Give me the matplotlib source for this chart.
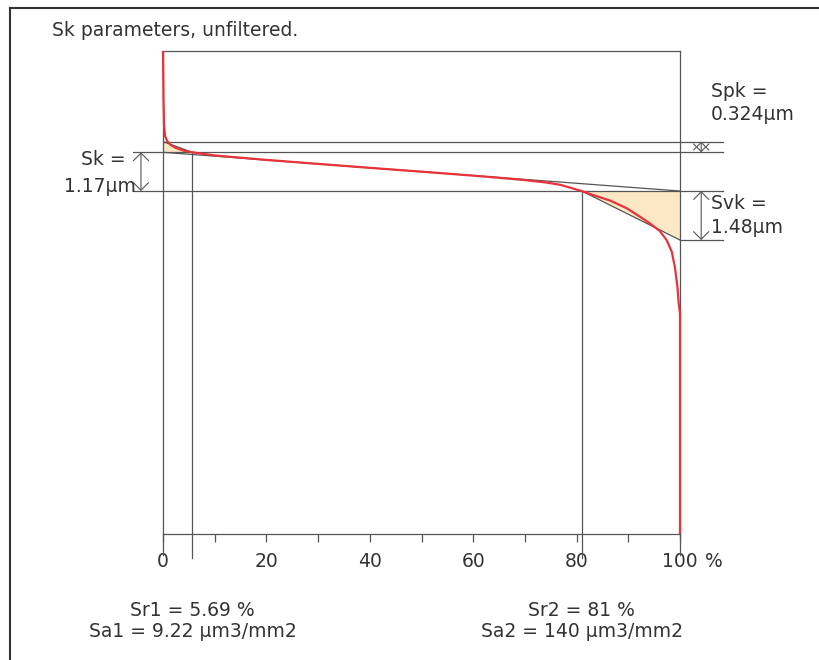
import matplotlib
matplotlib.use("Agg")
import matplotlib.pyplot as plt
from matplotlib.patches import FancyArrowPatch, Polygon
from matplotlib.lines import Line2D

plt.rcParams['font.family'] = ['DejaVu Sans']

# ---- data ----
title = "Sk parameters, unfiltered."
Sk = 1.17      # um
Spk = 0.324    # um
Svk = 1.48     # um
Sr1 = 5.69     # %
Sr2 = 81.0     # %
Sa1 = 9.22
Sa2 = 140

# bearing (Abbott-Firestone) curve: material ratio [%] and height [um] (0 = lower core limit)
mr = [0, 0.1, 0.2, 0.4, 0.8, 1.5, 2.5, 4.0, 5.69, 10, 20, 30, 40, 50, 60, 65, 70,
      74, 76.8, 81, 83.2, 86.5, 89.7, 92.3, 94.2, 96.1, 97.4, 98.4, 99.0, 99.5, 99.75,
      100, 100]
height = [4.23, 2.75, 2.0, 1.66, 1.51, 1.39, 1.30, 1.22, 1.17, 1.075, 0.94, 0.82, 0.70,
          0.585, 0.465, 0.40, 0.33, 0.26, 0.19, 0.0, -0.12, -0.29, -0.52, -0.78, -0.98,
          -1.21, -1.48, -1.83, -2.29, -2.89, -3.4, -3.7, -10.36]

xticks = [0, 10, 20, 30, 40, 50, 60, 70, 80, 90, 100]
xticklabels = ['0', '', '20', '', '40', '', '60', '', '80', '', '100']

# ---- layout ----
W, H = 820, 660
fig = plt.figure(figsize=(W / 100, H / 100), dpi=100)
L, R, T, B = 163, 680, 51, 534
ax = fig.add_axes([L / W, (H - B) / H, (R - L) / W, (B - T) / H])
ymin, ymax = -10.36, 4.23
ax.set_xlim(0, 100)
ax.set_ylim(ymin, ymax)

line_c = '#555555'
text_c = '#333333'
red = '#e8323c'
fill_c = '#fce8c4'
fs = 13.5

for s in ['left', 'right', 'top', 'bottom']:
    ax.spines[s].set_color(line_c)
    ax.spines[s].set_linewidth(0.9)

ax.set_yticks([])
ax.set_xticks(xticks)
ax.set_xticklabels(xticklabels, fontsize=fs, color=text_c)
ax.tick_params(axis='x', direction='out', length=6, width=0.9, color=line_c, pad=7)

top_core = Sk
spk_lvl = Sk + Spk
svk_lvl = -Svk

# triangles
ax.add_patch(Polygon([[0, top_core], [0, spk_lvl], [Sr1, top_core]], closed=True,
                     facecolor=fill_c, edgecolor='none', zorder=1))
ax.add_patch(Polygon([[Sr2, 0], [100, 0], [100, svk_lvl]], closed=True,
                     facecolor=fill_c, edgecolor='none', zorder=1))
ax.plot([0, Sr1], [spk_lvl, top_core], color=line_c, lw=0.9, zorder=2)
ax.plot([Sr2, 100], [0, svk_lvl], color=line_c, lw=0.9, zorder=2)

# equivalent straight line
ax.plot([0, 100], [top_core, 0], color=line_c, lw=0.9, zorder=2)

# horizontal level lines
xr = 108.3
xl = -5.8
kw = dict(color=line_c, lw=0.9, clip_on=False, zorder=2)
ax.plot([0, xr], [spk_lvl, spk_lvl], **kw)
ax.plot([xl, xr], [top_core, top_core], **kw)
ax.plot([xl, xr], [0, 0], **kw)
ax.plot([100, xr], [svk_lvl, svk_lvl], **kw)

# vertical lines
ylow = -11.1
ax.plot([Sr1, Sr1], [top_core, ylow], **kw)
ax.plot([Sr2, Sr2], [0, ylow], **kw)
ax.plot([0, 0], [ymin, -10.98], **kw)
ax.plot([100, 100], [ymin, -10.98], **kw)

# curve
ax.plot(mr, height, color=red, lw=1.6, zorder=4, clip_on=False, solid_capstyle='butt')

# arrows
def darrow(x, y0, y1):
    a = FancyArrowPatch((x, y0), (x, y1), arrowstyle='<->,head_length=0.55,head_width=0.55',
                        mutation_scale=10, color=line_c, lw=0.8, shrinkA=0, shrinkB=0,
                        clip_on=False, zorder=3)
    ax.add_patch(a)

darrow(-4.26, top_core, 0)
darrow(104.1, top_core, spk_lvl)
darrow(104.1, 0, svk_lvl)

tkw = dict(fontsize=fs, color=text_c, clip_on=False)
ax.text(-7.2, 0.94, "Sk =", ha='right', va='center', **tkw)
ax.text(-5.2, 0.15, f"{Sk:.2f}µm", ha='right', va='center', **tkw)
ax.text(106.0, 3.02, "Spk =", ha='left', va='center', **tkw)
ax.text(106.0, 2.31, f"{Spk:.3f}µm", ha='left', va='center', **tkw)
ax.text(106.0, -0.38, "Svk =", ha='left', va='center', **tkw)
ax.text(106.0, -1.10, f"{Svk:.2f}µm", ha='left', va='center', **tkw)

ax.text(106.6, -11.18, "%", ha='center', va='center', **tkw)

ax.text(Sr1, -12.66, f"Sr1 = {Sr1:.2f} %", ha='center', va='center', **tkw)
ax.text(Sr1, -13.32, f"Sa1 = {Sa1:.2f} µm3/mm2", ha='center', va='center', **tkw)
ax.text(Sr2, -12.66, f"Sr2 = {Sr2:.0f} %", ha='center', va='center', **tkw)
ax.text(Sr2, -13.32, f"Sa2 = {Sa2} µm3/mm2", ha='center', va='center', **tkw)

fig.text(52 / W, 1 - 30 / H, title, ha='left', va='center', fontsize=fs, color=text_c)

# outer frame
fig.add_artist(Line2D([10 / W, 10 / W], [0, 1 - 8 / H], transform=fig.transFigure,
                      color='#333333', lw=1.5))
fig.add_artist(Line2D([10 / W, 1], [1 - 8 / H, 1 - 8 / H], transform=fig.transFigure,
                      color='#333333', lw=1.5))

fig.savefig("out.png", dpi=100)
